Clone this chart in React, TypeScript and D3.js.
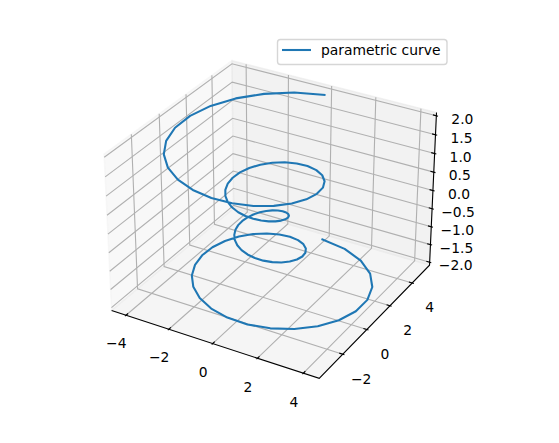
import React from 'react';
import * as d3 from 'd3';

const xs = [0, 1.216, 2.277, 3.126, 3.722, 4.042, 4.084, 3.865, 3.416, 2.779, 2.012, 1.17, 0.313, -0.502, -1.226, -1.819, -2.254, -2.513, -2.593, -2.503, -2.261, -1.895, -1.437, -0.922, -0.39, 0.126, 0.593, 0.987, 1.289, 1.486, 1.575, 1.559, 1.446, 1.251, 0.992, 0.69, 0.366, 0.04, -0.268, -0.541, -0.765, -0.931, -1.032, -1.066, -1.033, -0.94, -0.792, -0.599, -0.373, -0.127,
  0.127, 0.373, 0.599, 0.792, 0.94, 1.033, 1.066, 1.032, 0.931, 0.765, 0.541, 0.268, -0.04, -0.366, -0.69, -0.992, -1.251, -1.446, -1.559, -1.575, -1.486, -1.289, -0.987, -0.593, -0.126, 0.39, 0.922, 1.437, 1.895, 2.261, 2.503, 2.593, 2.513, 2.254, 1.819, 1.226, 0.502, -0.313, -1.17, -2.012, -2.779, -3.416, -3.865, -4.084, -4.042, -3.722, -3.126, -2.277, -1.216, 0];
const ys = [5, 4.685, 4.092, 3.278, 2.309, 1.257, 0.195, -0.809, -1.693, -2.409, -2.922, -3.214, -3.281, -3.135, -2.801, -2.313, -1.715, -1.052, -0.373, 0.279, 0.864, 1.349, 1.712, 1.938, 2.024, 1.976, 1.807, 1.537, 1.19, 0.796, 0.382, -0.025, -0.4, -0.722, -0.976, -1.152, -1.245, -1.254, -1.186, -1.049, -0.855, -0.619, -0.357, -0.085, 0.182, 0.429, 0.643, 0.813, 0.932, 0.992,
  0.992, 0.932, 0.813, 0.643, 0.429, 0.182, -0.085, -0.357, -0.619, -0.855, -1.049, -1.186, -1.254, -1.245, -1.152, -0.976, -0.722, -0.4, -0.025, 0.382, 0.796, 1.19, 1.537, 1.807, 1.976, 2.024, 1.938, 1.712, 1.349, 0.864, 0.279, -0.373, -1.052, -1.715, -2.313, -2.801, -3.135, -3.281, -3.214, -2.922, -2.409, -1.693, -0.809, 0.195, 1.257, 2.309, 3.278, 4.092, 4.685, 5];
const zs = [-2, -1.96, -1.919, -1.879, -1.838, -1.798, -1.758, -1.717, -1.677, -1.636, -1.596, -1.556, -1.515, -1.475, -1.434, -1.394, -1.354, -1.313, -1.273, -1.232, -1.192, -1.152, -1.111, -1.071, -1.03, -0.99, -0.949, -0.909, -0.869, -0.828, -0.788, -0.747, -0.707, -0.667, -0.626, -0.586, -0.545, -0.505, -0.465, -0.424, -0.384, -0.343, -0.303, -0.263, -0.222, -0.182, -0.141, -0.101, -0.061, -0.02,
  0.02, 0.061, 0.101, 0.141, 0.182, 0.222, 0.263, 0.303, 0.343, 0.384, 0.424, 0.465, 0.505, 0.545, 0.586, 0.626, 0.667, 0.707, 0.747, 0.788, 0.828, 0.869, 0.909, 0.949, 0.99, 1.03, 1.071, 1.111, 1.152, 1.192, 1.232, 1.273, 1.313, 1.354, 1.394, 1.434, 1.475, 1.515, 1.556, 1.596, 1.636, 1.677, 1.717, 1.758, 1.798, 1.838, 1.879, 1.919, 1.96, 2];

const xTicks = [-4, -2, 0, 2, 4];
const yTicks = [-2, 0, 2, 4];
const zTicks = [-2, -1.5, -1, -0.5, 0, 0.5, 1, 1.5, 2];
const legendLabel = 'parametric curve';

const width = 559;
const height = 443;
const font = '"DejaVu Sans", sans-serif';
const minus = (s: string) => s.replace('-', '\u2212');

// 3d view, same numbers matplotlib uses by default
const elev = (30 * Math.PI) / 180;
const azim = (-60 * Math.PI) / 180;
const dist = 10;
const boxK = 1.8294640721620434 / Math.hypot(4, 4, 3);
const box = [4 * boxK, 4 * boxK, 3 * boxK];

type V3 = number[];
const dot = (a: V3, b: V3) => a[0] * b[0] + a[1] * b[1] + a[2] * b[2];
const cross = (a: V3, b: V3) => [a[1] * b[2] - a[2] * b[1], a[2] * b[0] - a[0] * b[2], a[0] * b[1] - a[1] * b[0]];
const norm = (a: V3) => {
  const n = Math.hypot(a[0], a[1], a[2]);
  return a.map((d) => d / n);
};

const w = [Math.cos(elev) * Math.cos(azim), Math.cos(elev) * Math.sin(azim), Math.sin(elev)];
const eye = box.map((b, i) => b / 2 + dist * w[i]);
const u = norm(cross([0, 0, 1], w));
const v = cross(w, u);

const withMargin = (vals: number[], m: number): [number, number] => {
  const [a, b] = d3.extent(vals) as [number, number];
  const d = (b - a) * m;
  return [a - d, b + d];
};
const limits = [withMargin(xs, 0.05), withMargin(ys, 0.05), withMargin(zs, 0)];
const toBox = limits.map((l, i) => d3.scaleLinear().domain(l).range([0, box[i]]));
// panes sit 1/48 of the range outside the limits
const edges = limits.map(([a, b]) => [a - (b - a) / 48, b + (b - a) / 48]);
const [x0, x1] = edges[0];
const [y0, y1] = edges[1];
const [z0, z1] = edges[2];
const spans = limits.map(([a, b]) => b - a);

const pxX = d3.scaleLinear().domain([-0.095, 0.09]).range([83.7, 453.3]);
const pxY = d3.scaleLinear().domain([-0.095, 0.09]).range([401.7, 32.1]);

const project = (x: number, y: number, z: number): [number, number] => {
  const p = [toBox[0](x), toBox[1](y), toBox[2](z)].map((d, i) => d - eye[i]);
  const zv = -dot(p, w);
  return [pxX(dot(p, u) / zv), pxY(dot(p, v) / zv)];
};

const path3 = d3.line<number[]>()
  .x((d) => project(d[0], d[1], d[2])[0])
  .y((d) => project(d[0], d[1], d[2])[1]);

const curve = xs.map((x, i) => [x, ys[i], zs[i]]);

const panes = [
  { pts: [[x0, y0, z0], [x0, y1, z0], [x0, y1, z1], [x0, y0, z1]], fill: 0.95 },
  { pts: [[x0, y1, z0], [x1, y1, z0], [x1, y1, z1], [x0, y1, z1]], fill: 0.9 },
  { pts: [[x0, y0, z0], [x1, y0, z0], [x1, y1, z0], [x0, y1, z0]], fill: 0.925 },
];

const gridLines = [
  ...xTicks.map((t) => [[t, y0, z0], [t, y1, z0], [t, y1, z1]]),
  ...yTicks.map((t) => [[x1, t, z0], [x0, t, z0], [x0, t, z1]]),
  ...zTicks.map((t) => [[x0, y0, t], [x0, y1, t], [x1, y1, t]]),
];

const tickIn = 0.2 / 12;
const tickOut = 0.1 / 12;
const labelOff = 0.105;

const tickMarks = [
  ...xTicks.map((t) => [[t, y0 + tickIn * spans[1], z0], [t, y0 - tickOut * spans[1], z0]]),
  ...yTicks.map((t) => [[x1 - tickIn * spans[0], t, z0], [x1 + tickOut * spans[0], t, z0]]),
  ...zTicks.map((t) => [[x1 - tickIn * spans[0], y1, t], [x1 + tickOut * spans[0], y1, t]]),
];

export default function App() {
  return (
    <svg width={width} height={height} style={{ position: 'absolute', left: 0, top: 0, background: '#fff' }} fontFamily={font} fontSize={13.89}>
      {panes.map((p, i) => {
        const c = Math.round(p.fill * 255);
        return (
          <path key={i} d={path3(p.pts) + 'Z'} fill={`rgb(${c},${c},${c})`} fillOpacity={0.5}
            stroke={`rgb(${c},${c},${c})`} strokeOpacity={0.5} strokeWidth={1.39} />
        );
      })}
      {gridLines.map((g, i) => (
        <path key={i} d={path3(g) ?? ''} fill="none" stroke="#b0b0b0" strokeWidth={1.11} />
      ))}
      <path d={path3([[x0, y0, z0], [x1, y0, z0], [x1, y1, z0], [x1, y1, z1]]) ?? ''} fill="none" stroke="#000" strokeWidth={1.11} />
      {tickMarks.map((t, i) => (
        <path key={i} d={path3(t) ?? ''} stroke="#000" strokeWidth={1.11} />
      ))}
      {xTicks.map((t) => {
        const [px, py] = project(t, y0 - labelOff * spans[1], z0 - labelOff * spans[2]);
        return <text key={t} x={px + 3} y={py + 1} textAnchor="middle" dominantBaseline="central" fill="#000">{minus(String(t))}</text>;
      })}
      {yTicks.map((t) => {
        const [px, py] = project(x1 + labelOff * spans[0], t, z0 - labelOff * spans[2]);
        return <text key={t} x={px - 3} y={py + 2.5} textAnchor="middle" dominantBaseline="central" fill="#000">{minus(String(t))}</text>;
      })}
      {zTicks.map((t) => {
        const [px, py] = project(x1, y1, t);
        return <text key={t} x={px + 26} y={py + 3} textAnchor="middle" dominantBaseline="central" fill="#000">{minus(t.toFixed(1))}</text>;
      })}
      <path d={path3(curve) ?? ''} fill="none" stroke="#1f77b4" strokeWidth={2.08} strokeLinejoin="round" strokeLinecap="square" />
      <g>
        <rect x={277.5} y={39.5} width={169.5} height={25} rx={3} fill="#fff" fillOpacity={0.8} stroke="#ccc" strokeOpacity={0.8} strokeWidth={1.39} />
        <line x1={282} x2={311} y1={50} y2={50} stroke="#1f77b4" strokeWidth={2.08} />
        <text x={321} y={55} fill="#000">{legendLabel}</text>
      </g>
    </svg>
  );
}
